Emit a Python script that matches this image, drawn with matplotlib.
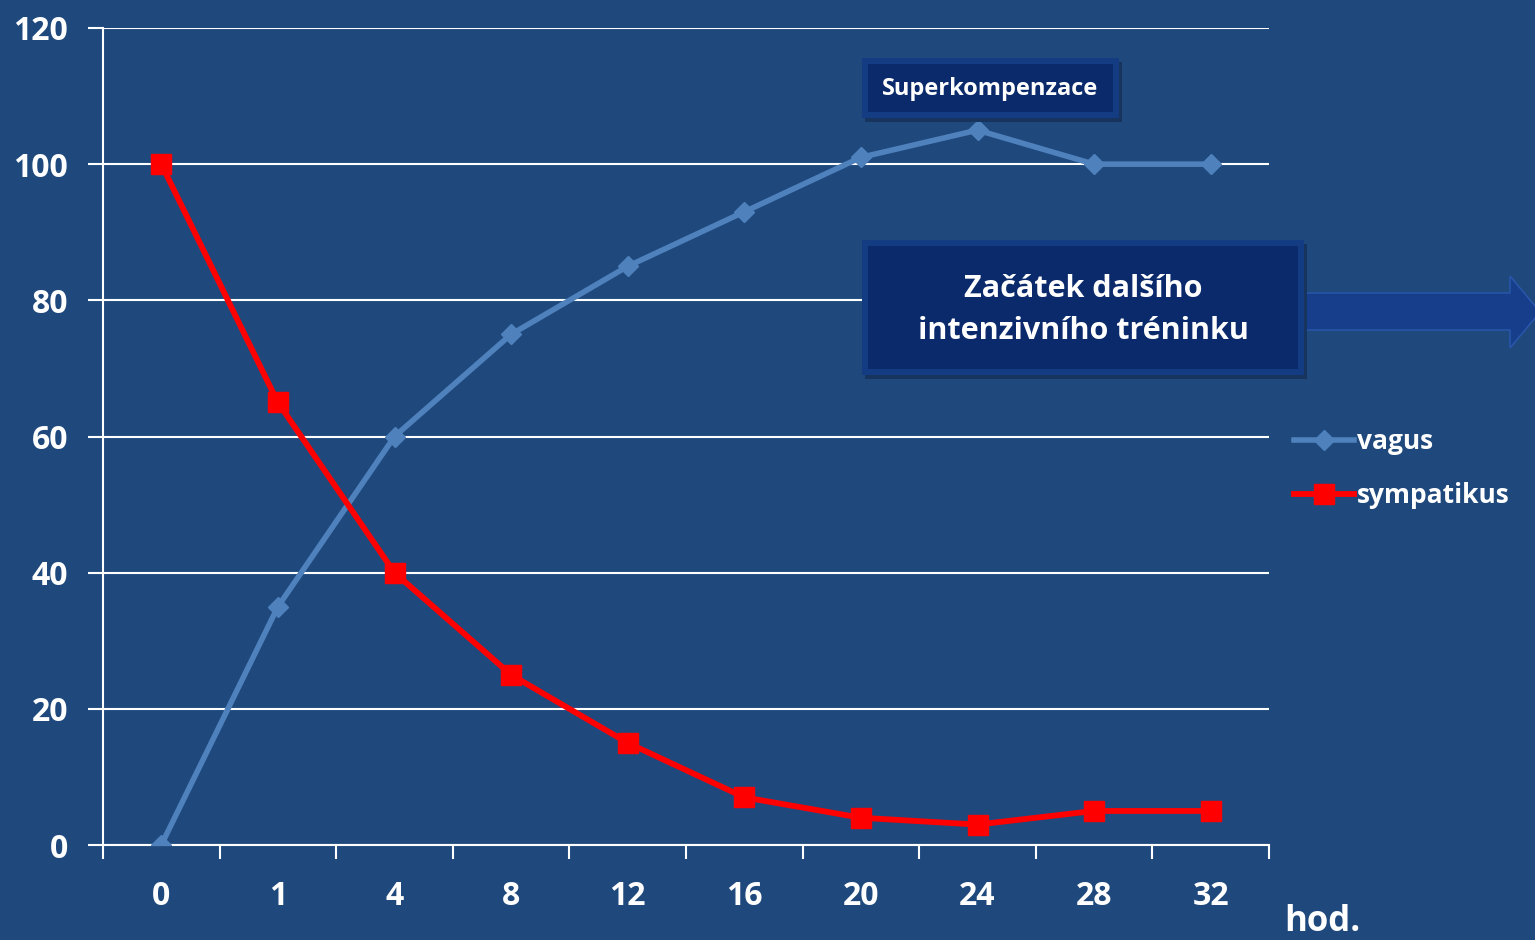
import matplotlib
matplotlib.use("Agg")
import matplotlib.pyplot as plt
from matplotlib.patches import Polygon, Rectangle

# data
hours = ["0", "1", "4", "8", "12", "16", "20", "24", "28", "32"]
vagus = [0, 35, 60, 75, 85, 93, 101, 105, 100, 100]
sympatikus = [100, 65, 40, 25, 15, 7, 4, 3, 5, 5]
y_ticks = [0, 20, 40, 60, 80, 100, 120]

BG = "#1F497D"
BOX = "#0B2A6C"
plt.rcParams["font.family"] = ["Open Sans", "DejaVu Sans"]
plt.rcParams["font.weight"] = "bold"

fig = plt.figure(figsize=(15.35, 9.4), dpi=100, facecolor=BG)
ax = fig.add_axes([103/1535, 95/940, (1269-103)/1535, (845-28)/940])
ax.set_facecolor(BG)

x = list(range(len(hours)))
ax.plot(x, vagus, color="#4F81BD", lw=4, marker="D", ms=10.5, label="vagus", zorder=4)
ax.plot(x, sympatikus, color="#FF0000", lw=4.2, marker="s", ms=14.5, label="sympatikus", zorder=5)

ax.set_xlim(-0.5, len(hours) - 0.5)
ax.set_ylim(0, 120)
ax.set_yticks(y_ticks)
ax.set_yticklabels([str(v) for v in y_ticks], color="white", fontsize=23, fontweight="bold")
ax.set_xticks(x)
ax.set_xticklabels(hours, color="white", fontsize=23, fontweight="bold")
ax.tick_params(axis="x", length=0, pad=25)
ax.set_xticks([i - 0.5 for i in range(len(hours) + 1)], minor=True)
ax.tick_params(axis="x", which="minor", length=10, width=1.5, color="white", direction="out")
ax.tick_params(axis="y", length=11, width=1.5, color="white", direction="out", pad=14)
ax.grid(axis="y", color="white", lw=1.5)
ax.set_axisbelow(True)
for s in ("top", "right"):
    ax.spines[s].set_visible(False)
for s in ("left", "bottom"):
    ax.spines[s].set_color("white")
    ax.spines[s].set_linewidth(1.5)

# legend
leg = fig.legend(loc="upper left", bbox_to_anchor=(1270/1535, 1 - 404/940),
                 frameon=False, handlelength=2.3, handletextpad=0.1, labelspacing=1.05,
                 prop={"weight": "bold", "size": 19, "family": ["Open Sans", "DejaVu Sans"]})
for t in leg.get_texts():
    t.set_color("white")

# "hod." label
fig.text(1284/1535, 1 - 922/940, "hod.", color="white", fontsize=25,
         fontweight="bold", ha="left", va="center")

W, H = 1535, 940

def bevel_box(x0, y0, x1, y1):
    # shadow
    fig.patches.append(Rectangle((x0/W + 0.002, 1 - y1/H - 0.004), (x1-x0)/W, (y1-y0)/H,
                                 transform=fig.transFigure, facecolor="#17345E",
                                 edgecolor="none", zorder=8))
    fig.patches.append(Rectangle((x0/W, 1 - y1/H), (x1-x0)/W, (y1-y0)/H,
                                 transform=fig.transFigure, facecolor="#143C82",
                                 edgecolor="none", zorder=9))
    b = 6
    fig.patches.append(Rectangle(((x0+b)/W, 1 - (y1-b)/H), (x1-x0-2*b)/W, (y1-y0-2*b)/H,
                                 transform=fig.transFigure, facecolor=BOX,
                                 edgecolor="none", zorder=10))

bevel_box(862, 58, 1119, 118)
fig.text((862+1119)/2/W, 1 - 89/H, "Superkompenzace", color="white", fontsize=17,
         fontweight="bold", ha="center", va="center", zorder=11)

# arrow
arrow_pts = [(1295, 293), (1510, 293), (1510, 276), (1540, 312),
             (1510, 348), (1510, 330), (1295, 330)]
fig.patches.append(Polygon([(px/W, 1 - py/H) for px, py in arrow_pts], closed=True,
                           transform=fig.transFigure, facecolor="#173E8A",
                           edgecolor="#2A58B0", lw=1, zorder=8))

bevel_box(862, 240, 1304, 375)
fig.text((862+1304)/2/W, 1 - 310/H, "Začátek dalšího\nintenzivního tréninku",
         color="white", fontsize=22, fontweight="bold", ha="center", va="center",
         linespacing=1.55, zorder=11)

fig.savefig("out.png", dpi=100, facecolor=BG)
